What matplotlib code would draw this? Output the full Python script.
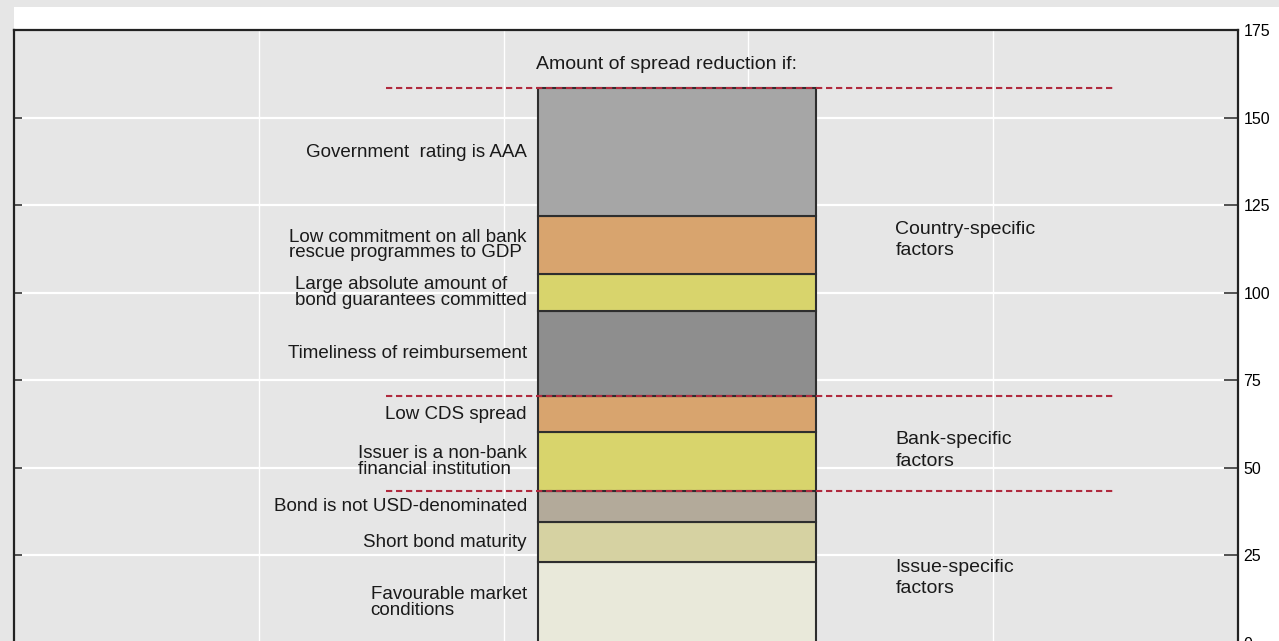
import numpy as np
import matplotlib.pyplot as plt
from matplotlib.patches import Rectangle

plt.rcParams['font.family'] = ['Liberation Sans', 'DejaVu Sans']

# 各因素的利差缩减量（从下到上）
labels = ['Favourable market\nconditions',
          'Short bond maturity',
          'Bond is not USD-denominated',
          'Issuer is a non-bank\nfinancial institution',
          'Low CDS spread',
          'Timeliness of reimbursement',
          'Large absolute amount of\nbond guarantees committed',
          'Low commitment on all bank\nrescue programmes to GDP',
          'Government  rating is AAA']
values = [23.1, 11.4, 8.9, 16.8, 10.3, 24.3, 10.5, 16.6, 36.5]
colors = ['#e9e9da', '#d6d2a2', '#b3aa9a', '#d8d46c', '#d8a46e',
          '#8e8e8e', '#d8d46c', '#d8a46e', '#a6a6a6']

# 分组：每组包含的因素数量
groups = ['Issue-specific\nfactors', 'Bank-specific\nfactors', 'Country-specific\nfactors']
group_sizes = [3, 2, 4]
group_label_y = [18.5, 55, 115]

yticks = [0, 25, 50, 75, 100, 125, 150, 175]

fig = plt.figure(figsize=(12.79, 6.41), dpi=100, facecolor='#e6e6e6')
fig.patches.append(Rectangle((14 / 1279, 0), 1, 1 - 7 / 641, transform=fig.transFigure,
                             facecolor='white', edgecolor='none', zorder=-10))
ax = fig.add_axes([14 / 1279, -0.003, 1224 / 1279, 0.9563])
ax.set_facecolor('#e6e6e6')

ax.set_xlim(0, 5)
ax.set_ylim(0, 175)

# 网格线
for y in yticks[1:-1]:
    ax.axhline(y, color='white', lw=1.6, zorder=1)
for x in [1, 2, 3, 4]:
    ax.axvline(x, color='white', lw=1.0, zorder=1)

# 堆叠柱
bottoms = np.concatenate([[0], np.cumsum(values)[:-1]])
ax.bar(2.71, values, bottom=bottoms, width=1.135, color=colors,
       edgecolor='#2e2e2e', linewidth=1.5, zorder=3)

for lab, b, v in zip(labels, bottoms, values):
    ax.text(2.095, b + v / 2, lab, ha='right', va='center', multialignment='left',
            fontsize=13.5, color='#1a1a1a', zorder=4, linespacing=0.92)

# 分组虚线
cum = np.cumsum(values)
edges = np.cumsum(group_sizes) - 1
for e in edges:
    ax.plot([1.52, 4.5], [cum[e], cum[e]], color='#b02a3e', lw=1.5,
            ls=(0, (3, 1.8)), zorder=5)

for g, gy in zip(groups, group_label_y):
    ax.text(3.60, gy, g, ha='left', va='center', fontsize=14,
            color='#1a1a1a', linespacing=1.35)

ax.text(2.667, 165.2, 'Amount of spread reduction if:', ha='center', va='center',
        fontsize=14, color='#1a1a1a')

ax.set_xticks([])
ax.set_yticks(yticks)
ax.yaxis.tick_right()
ax.tick_params(axis='y', right=True, left=True, labelleft=False, labelright=True,
               direction='in', length=10, width=1.2, color='#333333',
               labelsize=11.5, pad=4)
for t in ax.yaxis.get_major_ticks():
    t.tick1line.set_markersize(6)
    t.tick1line.set_color('#666666')

for s in ax.spines.values():
    s.set_color('#222222')
    s.set_linewidth(1.6)
ax.spines['bottom'].set_visible(False)

fig.savefig('out.png', dpi=100, facecolor=fig.get_facecolor())
